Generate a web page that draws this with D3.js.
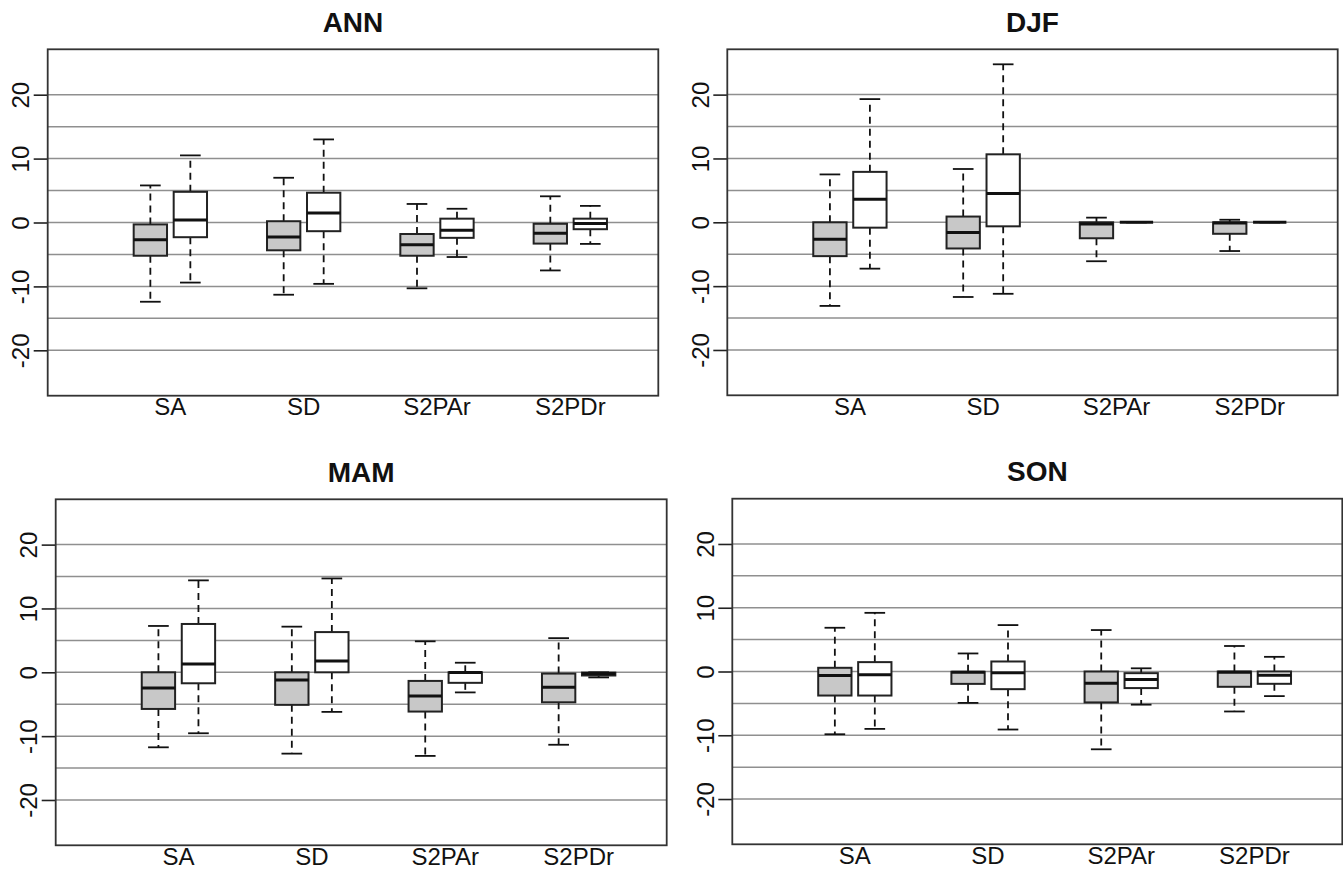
<!DOCTYPE html>
<html>
<head>
<meta charset="utf-8">
<script src="https://cdn.jsdelivr.net/npm/d3@7"></script>
<style>
  body { margin: 0; background: #fff; }
  svg { display: block; font-family: "Liberation Sans", Arial, sans-serif; }
</style>
</head>
<body>
<div id="chart"></div>
<script>
// box stats: [lower whisker, q1, median, q3, upper whisker]
const categories = ["SA", "SD", "S2PAr", "S2PDr"];
const seasons = ["ANN", "DJF", "MAM", "SON"];
const yTicks = [-20, -10, 0, 10, 20];
const gridValues = [-20, -15, -10, -5, 0, 5, 10, 15, 20];

const annGrey  = [[-12.4, -5.2, -2.7, -0.3, 5.8], [-11.3, -4.35, -2.25, 0.2, 7.0], [-10.3, -5.2, -3.5, -1.8, 2.9], [-7.5, -3.3, -1.7, -0.2, 4.1]];
const annWhite = [[-9.4, -2.3, 0.4, 4.8, 10.5], [-9.6, -1.36, 1.5, 4.66, 13.0], [-5.4, -2.4, -1.2, 0.6, 2.15], [-3.35, -1.05, -0.15, 0.6, 2.6]];
const djfGrey  = [[-13.1, -5.3, -2.66, 0.0, 7.5], [-11.7, -4.1, -1.6, 0.9, 8.35], [-6.1, -2.5, -0.26, 0.0, 0.73], [-4.5, -1.8, -0.1, 0.0, 0.4]];
const djfWhite = [[-7.26, -0.84, 3.6, 7.9, 19.3], [-11.2, -0.63, 4.5, 10.65, 24.75], [0, 0, 0, 0, 0], [0, 0, 0, 0, 0]];
const mamGrey  = [[-11.75, -5.74, -2.45, 0.0, 7.26], [-12.74, -5.1, -1.2, 0.0, 7.15], [-13.1, -6.15, -3.7, -1.35, 4.85], [-11.35, -4.7, -2.35, -0.2, 5.35]];
const mamWhite = [[-9.55, -1.72, 1.3, 7.57, 14.4], [-6.2, 0.0, 1.78, 6.3, 14.7], [-3.15, -1.65, -0.05, 0.0, 1.5], [-0.8, -0.5, -0.2, -0.05, 0.0]];
const sonGrey  = [[-9.84, -3.77, -0.63, 0.58, 6.86], [-4.92, -1.94, -0.1, -0.05, 2.83], [-12.2, -4.85, -1.83, 0.0, 6.5], [-6.27, -2.4, -0.1, 0.0, 4.0]];
const sonWhite = [[-9.0, -3.77, -0.52, 1.47, 9.2], [-9.1, -2.77, -0.2, 1.57, 7.28], [-5.2, -2.6, -1.25, -0.26, 0.5], [-3.86, -1.93, -0.57, 0.0, 2.3]];

const greyBySeason = [annGrey, djfGrey, mamGrey, sonGrey];
const whiteBySeason = [annWhite, djfWhite, mamWhite, sonWhite];

const width = 1343, height = 869;
// panel frames [left, top, right, bottom]
const frames = [
    [47.7, 49.3, 658.3, 395.7],
    [727.3, 49.3, 1337.7, 395.3],
    [55.7, 499.3, 666.7, 845.3],
    [732.3, 498.7, 1342.3, 844.3]
];

const svg = d3.select("#chart").append("svg")
    .attr("width", width)
    .attr("height", height);

seasons.forEach((season, si) => {
    const [l, t, r, b] = frames[si];
    const w = r - l, h = b - t;
    const g = svg.append("g").attr("transform", `translate(${l},${t})`);

    const x = d3.scaleLinear().domain([0.23, 4.81]).range([0, w]);
    const y = d3.scaleLinear().domain([-27.1, 27.1]).range([h, 0]);
    const boxW = x(1.25) - x(1);

    // grid
    g.selectAll(".grid")
        .data(gridValues)
        .enter().append("line")
        .attr("x1", 0).attr("x2", w)
        .attr("y1", d => y(d)).attr("y2", d => y(d))
        .attr("stroke", "#8f8f8f")
        .attr("stroke-width", 1.5);

    // y axis (plain hyphen for negatives, as in the original)
    const yAxis = g.append("g")
        .call(d3.axisLeft(y).tickValues(yTicks).tickSize(14).tickPadding(4).tickFormat(d => String(d)));
    yAxis.select(".domain").remove();
    yAxis.selectAll(".tick line").attr("stroke", "#222").attr("stroke-width", 1.6);
    yAxis.selectAll(".tick text")
        .attr("transform", "rotate(-90)")
        .attr("x", 0)
        .attr("y", -18.4)
        .attr("dy", 0)
        .attr("text-anchor", "middle")
        .style("font-size", "24px")
        .style("fill", "#111");

    // x labels
    g.selectAll(".xlab")
        .data(categories)
        .enter().append("text")
        .attr("x", (d, i) => x(i + 1.15))
        .attr("y", h + 19.5)
        .attr("text-anchor", "middle")
        .style("font-size", "24px")
        .style("fill", "#111")
        .text(d => d);

    // boxes
    const boxes = [];
    greyBySeason[si].forEach((s, i) => boxes.push({pos: i + 1, s: s, fill: "#c8c8c8"}));
    whiteBySeason[si].forEach((s, i) => boxes.push({pos: i + 1.3, s: s, fill: "#ffffff"}));

    const bg = g.selectAll(".box")
        .data(boxes)
        .enter().append("g");

    bg.each(function (d) {
        const sel = d3.select(this);
        const cx = x(d.pos);
        const [lo, q1, med, q3, hi] = d.s;
        // whiskers
        sel.append("line")
            .attr("x1", cx).attr("x2", cx)
            .attr("y1", y(q3)).attr("y2", y(hi))
            .attr("stroke", "#111").attr("stroke-width", 1.8)
            .attr("stroke-dasharray", "7,5");
        sel.append("line")
            .attr("x1", cx).attr("x2", cx)
            .attr("y1", y(q1)).attr("y2", y(lo))
            .attr("stroke", "#111").attr("stroke-width", 1.8)
            .attr("stroke-dasharray", "7,5");
        // staples
        [lo, hi].forEach(v => {
            sel.append("line")
                .attr("x1", cx - boxW * 0.31).attr("x2", cx + boxW * 0.31)
                .attr("y1", y(v)).attr("y2", y(v))
                .attr("stroke", "#111").attr("stroke-width", 1.8);
        });
        sel.append("rect")
            .attr("x", cx - boxW / 2)
            .attr("y", y(q3))
            .attr("width", boxW)
            .attr("height", Math.max(0, y(q1) - y(q3)))
            .attr("fill", d.fill)
            .attr("stroke", "#222")
            .attr("stroke-width", 2);
        sel.append("line")
            .attr("x1", cx - boxW / 2).attr("x2", cx + boxW / 2)
            .attr("y1", y(med)).attr("y2", y(med))
            .attr("stroke", "#111").attr("stroke-width", 3);
    });

    // frame
    g.append("rect")
        .attr("width", w).attr("height", h)
        .attr("fill", "none")
        .attr("stroke", "#333")
        .attr("stroke-width", 1.8);

    // title
    g.append("text")
        .attr("x", w / 2)
        .attr("y", -17.5)
        .attr("text-anchor", "middle")
        .style("font-size", "28px")
        .style("font-weight", "bold")
        .style("fill", "#111")
        .text(season);
});
</script>
</body>
</html>
